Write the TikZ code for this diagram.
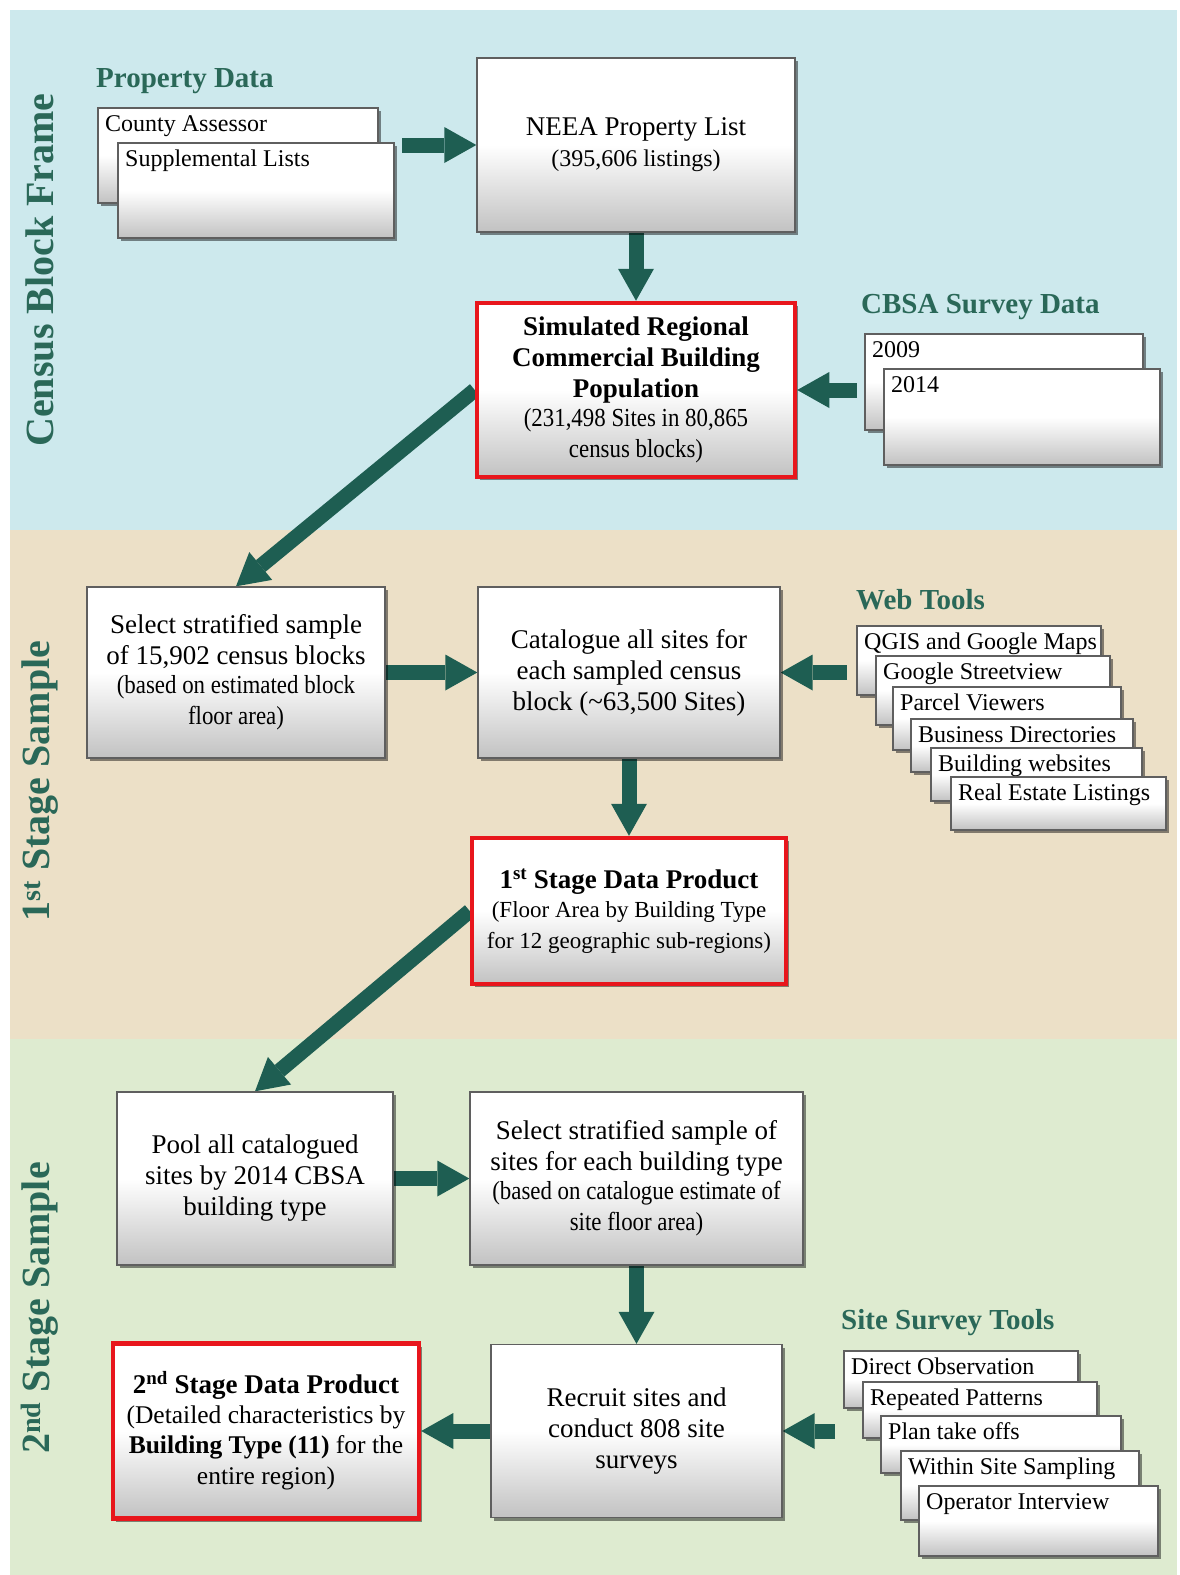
\documentclass[tikz,border=0pt]{standalone}
\usepackage{fontspec}
\setmainfont{Liberation Serif}
\newfontfamily\condfont{Liberation Serif}[FakeStretch=0.88]
\usetikzlibrary{arrows.meta,shadows,calc}
\definecolor{bgblue}{RGB}{205,233,237}
\definecolor{bgtan}{RGB}{236,224,199}
\definecolor{bggreen}{RGB}{222,235,208}
\definecolor{headc}{RGB}{42,104,88}
\definecolor{arrc}{RGB}{30,94,82}
\definecolor{boxline}{RGB}{95,95,95}
\definecolor{redline}{RGB}{232,22,28}
\newcommand\fmain{\fontsize{27pt}{31pt}\selectfont\hyphenpenalty=10000\exhyphenpenalty=10000}
\newcommand\fsub{\fontsize{24pt}{29pt}\selectfont}
\newcommand\fsubp{\fontsize{23pt}{29pt}\selectfont}
\newcommand\fsubb{\fontsize{25.5pt}{30pt}\selectfont}
\newcommand\fcsub{\condfont\fontsize{26pt}{29pt}\selectfont}
\newcommand\fstk{\fontsize{24pt}{28pt}\selectfont}
\newcommand\fhead{\bfseries\fontsize{29pt}{33pt}\selectfont}
\newcommand\fsec{\bfseries\fontsize{40pt}{44pt}\selectfont}
\pgfdeclarelayer{bg}
\pgfdeclarelayer{arr}
\pgfsetlayers{bg,arr,main}
\tikzset{
  shad/.style={drop shadow={shadow xshift=3pt,shadow yshift=-3pt,opacity=0.45,fill=black}},
  box/.style={rectangle, draw=boxline, line width=1.4pt, top color=white, bottom color=black!24, middle color=white, shad, align=flush center, font=\fmain, inner sep=0pt},
  redbox/.style={box, draw=redline, line width=4.5pt},
  stk/.style={rectangle, draw=boxline, line width=1.2pt, top color=white, bottom color=black!24, middle color=white, shad, anchor=north west, inner sep=0pt, outer sep=0pt},
  stklbl/.style={anchor=base west, font=\fstk, inner sep=0pt, xshift=7pt, yshift=-23pt},
  head/.style={anchor=west, font=\fhead, text=headc, inner sep=0pt},
  sect/.style={rotate=90, font=\fsec, text=headc, inner sep=0pt},
  blockarr/.style={draw=arrc, line width=15pt, -{Triangle[width=36pt,length=32pt,line width=0pt]}}
}
\begin{document}
\begin{tikzpicture}[x=1pt,y=-1pt]
\useasboundingbox (0,0) rectangle (1180,1575);
\begin{pgfonlayer}{bg}
\fill[white] (0,0) rectangle (1180,1575);
\fill[bgblue] (10,10) rectangle (1177,530);
\fill[bgtan] (10,530) rectangle (1177,1039);
\fill[bggreen] (10,1039) rectangle (1177,1575);
\end{pgfonlayer}

% section labels
\node[sect] (s1) at (40,270) {Census Block Frame};
\node[sect] (s2) at (40,781) {1\textsuperscript{st} Stage Sample};
\node[sect] (s3) at (40,1308) {2\textsuperscript{nd} Stage Sample};

% headings
\node[head] (hprop) at (96,81) {Property Data};
\node[head] (hcbsa) at (861,307) {CBSA Survey Data};
\node[head] (hweb) at (856,600) {Web Tools};
\node[head] (hsite) at (841,1323) {Site Survey Tools};

% stacks
\node[stk, minimum width=280pt, minimum height=95pt, label={[stklbl]north west:County Assessor}] (ca) at (98,108) {};
\node[stk, minimum width=276pt, minimum height=95pt, label={[stklbl]north west:Supplemental Lists}] (sl) at (118,143) {};

\node[stk, minimum width=278pt, minimum height=96pt, label={[stklbl]north west:2009}] (c09) at (865,334) {};
\node[stk, minimum width=276pt, minimum height=96pt, label={[stklbl]north west:2014}] (c14) at (884,369) {};

\node[stk, minimum width=244pt, minimum height=69pt, label={[stklbl]north west:QGIS and Google Maps}] (qgis) at (857,626) {};
\node[stk, minimum width=234pt, minimum height=69pt, label={[stklbl]north west:Google Streetview}] (gsv) at (876,656) {};
\node[stk, minimum width=228pt, minimum height=63pt, label={[stklbl]north west:Parcel Viewers}] (pv) at (893,687) {};
\node[stk, minimum width=222pt, minimum height=53pt, label={[stklbl]north west:Business Directories}] (bd) at (911,719) {};
\node[stk, minimum width=211pt, minimum height=53pt, label={[stklbl]north west:Building websites}] (bw) at (931,748) {};
\node[stk, minimum width=215pt, minimum height=53pt, label={[stklbl]north west:Real Estate Listings}] (rel) at (951,777) {};

\node[stk, minimum width=234pt, minimum height=57pt, label={[stklbl]north west:Direct Observation}] (dobs) at (844,1351) {};
\node[stk, minimum width=234pt, minimum height=56pt, label={[stklbl]north west:Repeated Patterns}] (rp) at (863,1382) {};
\node[stk, minimum width=240pt, minimum height=57pt, label={[stklbl]north west:Plan take offs}] (pto) at (881,1416) {};
\node[stk, minimum width=238pt, minimum height=69pt, label={[stklbl]north west:Within Site Sampling}] (wss) at (901,1451) {};
\node[stk, minimum width=239pt, minimum height=70pt, label={[stklbl]north west:Operator Interview}] (oi) at (919,1486) {};

% main boxes
\node[box, minimum width=318pt, minimum height=174pt, text width=312pt] (neea) at (636,145)
  {NEEA Property List\\{\fsub (395,606 listings)}};
\node[redbox, minimum width=318pt, minimum height=174pt, text width=310pt] (sim) at (636,390)
  {{\bfseries Simulated Regional\\ Commercial Building\\ Population}\\{\fcsub (231,498 Sites in 80,865\\ census blocks)}};
\node[box, minimum width=298pt, minimum height=171pt, text width=294pt] (sel1) at (236,672.5)
  {Select stratified sample\\ of 15,902 census blocks\\{\fcsub (based on estimated block\\ floor area)}};
\node[box, minimum width=302pt, minimum height=171pt, text width=298pt] (cat) at (629,672.5)
  {Catalogue all sites for\\ each sampled census\\ block (\textasciitilde 63,500 Sites)};
\node[redbox, minimum width=314pt, minimum height=146pt, text width=306pt] (p1) at (629,911)
  {{\bfseries 1\textsuperscript{st} Stage Data Product}\\{\fsubp (Floor Area by Building Type\\ for 12 geographic sub-regions)}};
\node[box, minimum width=276pt, minimum height=173pt, text width=272pt] (pool) at (255,1178.5)
  {Pool all catalogued\\ sites by 2014 CBSA\\ building type};
\node[box, minimum width=333pt, minimum height=173pt, text width=329pt] (sel2) at (636.5,1178.5)
  {Select stratified sample of\\ sites for each building type\\{\fcsub (based on catalogue estimate of\\ site floor area)}};
\node[box, minimum width=291pt, minimum height=173pt, text width=287pt] (rec) at (636.5,1431)
  {Recruit sites and\\ conduct 808 site\\ surveys};
\node[redbox, minimum width=306pt, minimum height=175pt, text width=298pt] (p2) at (266,1431)
  {{\bfseries 2\textsuperscript{nd} Stage Data Product}\\{\fsubb (Detailed characteristics by\\ {\bfseries Building Type (11)} for the\\ entire region)}};

% connectors
\begin{pgfonlayer}{arr}
\draw[blockarr] ($(sl.east |- neea.west)+(8,0)$) -- (neea.west);
\draw[blockarr] (neea.south) -- (sim.north);
\draw[blockarr] ($(c09.west |- sim.east)+(-8,0)$) -- (sim.east);
\draw[blockarr] (sim.west) -- (sel1.north);
\draw[blockarr] (sel1.east) -- (cat.west);
\draw[blockarr] ($(qgis.west |- cat.east)+(-10,0)$) -- (cat.east);
\draw[blockarr] (cat.south) -- (p1.north);
\draw[blockarr] (p1.west) -- (pool.north);
\draw[blockarr] (pool.east) -- (sel2.west);
\draw[blockarr] (sel2.south) -- (rec.north);
\draw[blockarr] ($(dobs.west |- rec.east)+(-9,0)$) -- (rec.east);
\draw[blockarr] (rec.west) -- (p2.east);
\end{pgfonlayer}
\end{tikzpicture}
\end{document}
